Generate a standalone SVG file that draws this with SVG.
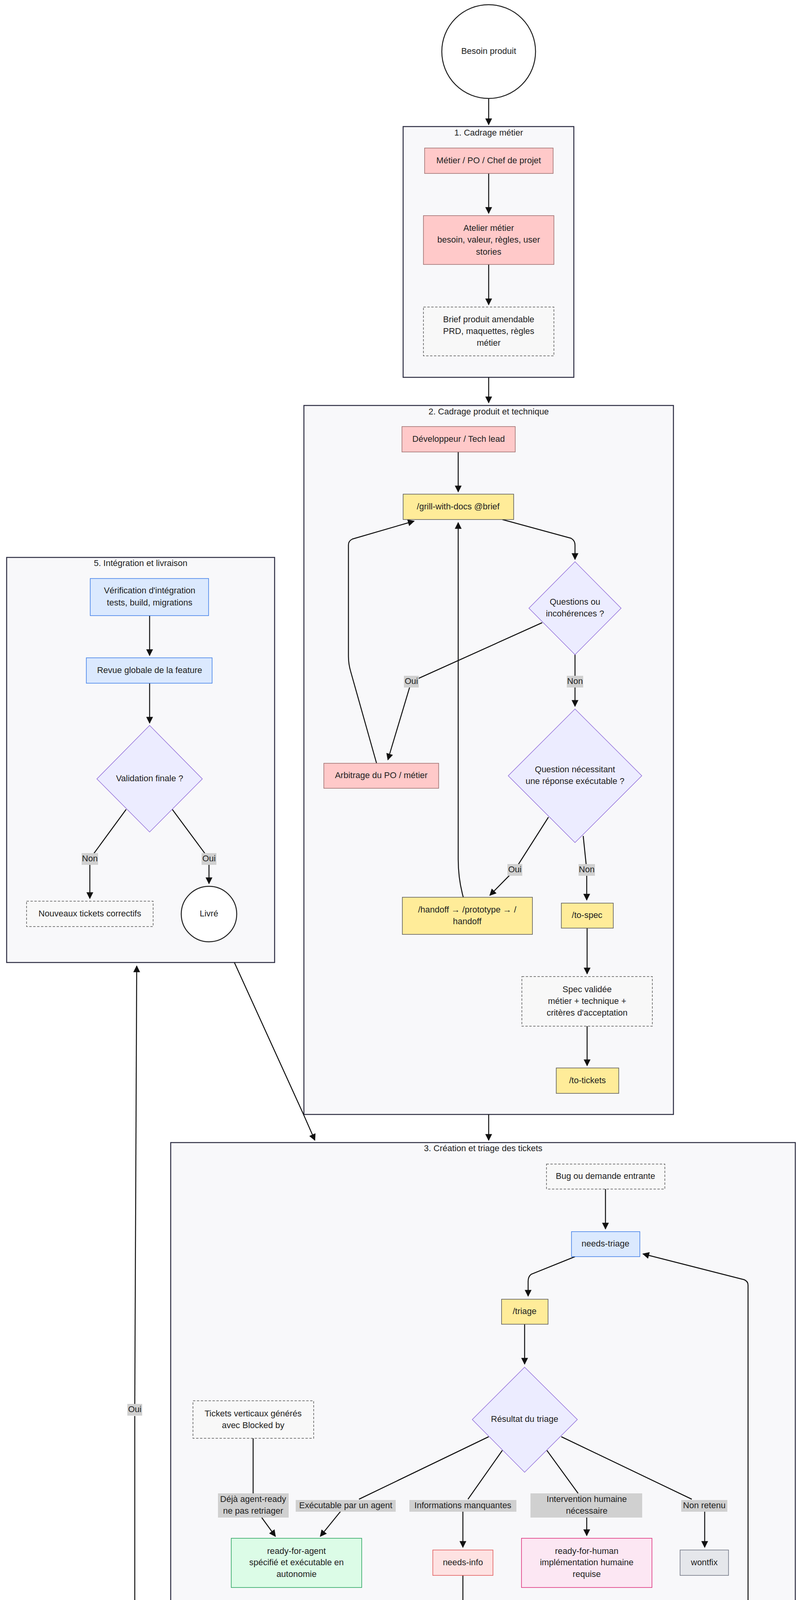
<svg xmlns="http://www.w3.org/2000/svg" width="2048" height="7204" viewBox="0 0 2048 7204">
<defs>
<marker id="ar" viewBox="0 0 10 10" refX="9" refY="5" markerWidth="7" markerHeight="7" orient="auto"><path d="M0,0 L10,5 L0,10 z" fill="#111"/></marker>
<style>
text{font-family:"Liberation Sans","DejaVu Sans",sans-serif;font-size:22px;fill:#222;text-anchor:middle;dominant-baseline:middle}
.cl{fill:#f8f8fa;stroke:#2b2b40;stroke-width:2.5}
.pk{fill:#ffc9c9;stroke:#9a6b6b;stroke-width:1.5}
.ye{fill:#ffec99;stroke:#555;stroke-width:1.5}
.bl{fill:#dbe9fe;stroke:#3b7be8;stroke-width:1.5}
.gr{fill:#dcfce7;stroke:#22a05a;stroke-width:1.5}
.hu{fill:#fce7f3;stroke:#db2777;stroke-width:1.5}
.rd{fill:#fee2e2;stroke:#e05555;stroke-width:1.5}
.gy{fill:#e5e7eb;stroke:#6b7280;stroke-width:1.5}
.ds{fill:#f8f8f8;stroke:#555;stroke-width:1.5;stroke-dasharray:6 4}
.dc{fill:#ececff;stroke:#9370db;stroke-width:1.5}
.ci{fill:#fff;stroke:#222;stroke-width:2.5}
.e{fill:none;stroke:#111;stroke-width:2.5}
.ea{fill:none;stroke:#111;stroke-width:2.5;marker-end:url(#ar)}
.lb{fill:#d0d0d0}
</style>
</defs>
<rect width="2048" height="7204" fill="#fff"/>
<g id="clusters">
<g id="c1"><rect class="cl" x="1032" y="324" width="437" height="642"/><text x="1251" y="341">1. Cadrage métier</text></g>
<g id="c2"><rect class="cl" x="778" y="1038" width="946" height="1815"/><text x="1251" y="1055">2. Cadrage produit et technique</text></g>
<g id="c5"><rect class="cl" x="17" y="1427" width="686" height="1037"/><text x="360" y="1443">5. Intégration et livraison</text></g>
<g id="c3"><rect class="cl" x="437" y="2925" width="1599" height="1366"/><text x="1237" y="2941">3. Création et triage des tickets</text></g>
<g id="c4"><rect class="cl" x="12" y="4362" width="1563" height="2825"/><text x="793" y="4378">4. Développement multi-agent</text></g>
</g>
<g id="edges">
<path class="ea" d="M1251,252 V319"/>
<path class="ea" d="M1251,444 V546"/>
<path class="ea" d="M1251,677 V780"/>
<path class="ea" d="M1251,966 V1031"/>
<path class="ea" d="M1173,1157 V1259"/>
<path class="ea" d="M1286,1330 L1462,1378 Q1472,1384 1472,1395 V1432"/>
<path class="e" d="M1388,1594 L1053,1745"/>
<path class="ea" d="M1053,1745 L993,1945"/>
<path class="ea" d="M964,1954 L898,1720 Q892,1700 892,1680 V1395 Q892,1385 902,1380 L1060,1334"/>
<path class="ea" d="M1472,1675 V1808"/>
<path class="e" d="M1404,2092 L1318,2227"/>
<path class="ea" d="M1318,2227 L1254,2292"/>
<path class="ea" d="M1186,2297 Q1173,2250 1173,2200 V1338"/>
<path class="e" d="M1493,2140 L1502,2227"/>
<path class="ea" d="M1502,2227 V2304"/>
<path class="ea" d="M1503,2376 V2493"/>
<path class="ea" d="M1503,2627 V2728"/>
<path class="ea" d="M383,1576 V1678"/>
<path class="ea" d="M383,1749 V1851"/>
<path class="e" d="M323,2072 L230,2199"/>
<path class="ea" d="M230,2199 V2300"/>
<path class="e" d="M441,2072 L535,2199"/>
<path class="ea" d="M535,2199 V2262"/>
<path class="ea" d="M1251,2853 V2919"/>
<path class="ea" d="M600,2464 L777,2853 L806,2919"/>
<path class="ea" d="M1550,3044 V3146"/>
<path class="ea" d="M1472,3217 L1360,3262 Q1352,3268 1352,3280 V3318"/>
<path class="ea" d="M1343,3390 V3492"/>
<path class="e" d="M648,3682 V3823"/>
<path class="ea" d="M670,3885 L705,3933"/>
<path class="e" d="M1251,3678 L919,3838"/>
<path class="ea" d="M872,3869 L820,3933"/>
<path class="e" d="M1286,3713 L1198,3838"/>
<path class="ea" d="M1185,3869 V3961"/>
<path class="e" d="M1400,3713 L1480,3823"/>
<path class="ea" d="M1502,3885 V3931"/>
<path class="e" d="M1437,3678 L1771,3838"/>
<path class="ea" d="M1804,3869 V3961"/>
<path class="ea" d="M1185,4033 V4108 Q1185,4118 1195,4121 L1444,4169"/>
<path class="ea" d="M1727,4172 L1905,4120 Q1915,4115 1915,4105 V3290 Q1915,3280 1905,3276 L1646,3210"/>
<path class="ea" d="M814,4291 Q800,4320 793,4356"/>
<path class="ea" d="M1251,4291 V4330 Q1251,4345 1245,4356"/>
<path class="e" d="M355,4362 Q345,4340 345,4300 V3625"/>
<path class="ea" d="M345,3595 L350,2473"/>
<path class="ea" d="M801,4497 L446,4561 Q436,4565 436,4575 V4614"/>
<path class="e" d="M337,4877 L131,5044"/>
<path class="ea" d="M131,5044 L178,5121"/>
<path class="ea" d="M249,5128 L345,5065 Q355,5058 358,5040 L392,4942"/>
<path class="e" d="M517,4894 L640,5044"/>
<path class="ea" d="M640,5044 V5106"/>
<path class="ea" d="M491,5196 L228,5256 Q217,5260 217,5272 V5309"/>
<path class="ea" d="M592,5208 L545,5250 Q537,5258 537,5270 V5309"/>
<path class="ea" d="M743,5208 L848,5250 Q858,5256 858,5268 V5309"/>
<path class="ea" d="M217,5412 V5529"/>
<path class="ea" d="M537,5412 V5529"/>
<path class="ea" d="M858,5412 V5529"/>
<path class="ea" d="M217,5600 V5660 Q217,5669 228,5672 L707,5750"/>
<path class="ea" d="M537,5600 V5658 Q537,5667 546,5670 L707,5729"/>
<path class="ea" d="M858,5600 V5640 Q858,5680 849,5714"/>
<path class="ea" d="M1222,5615 V5658 Q1222,5668 1210,5671 L955,5737"/>
<path class="ea" d="M716,5791 L228,5868 Q217,5871 217,5883 V5919"/>
<path class="ea" d="M216,6022 V6123"/>
<path class="e" d="M216,6375 V6444"/>
<path class="ea" d="M236,6448 L742,6530"/>
<path class="ea" d="M910,6511 L1066,6452 Q1075,6448 1075,6436 V5885 Q1075,5875 1065,5870 L957,5824"/>
<path class="e" d="M320,6273 L1222,6444"/>
<path class="ea" d="M1222,6444 V6507"/>
<path class="ea" d="M1222,6578 V6680"/>
<path class="ea" d="M1224,6782 V6820 Q1224,6835 1230,6845 L1297,6937"/>
<path class="e" d="M1397,6929 Q1441,6850 1441,6800 V5790"/>
<path class="ea" d="M1441,5755 V4580 Q1441,4570 1431,4566 L1143,4505"/>
</g>
<g id="edge-labels">
<rect class="lb" x="1034" y="1730" width="38" height="30"/><text x="1053" y="1745">Oui</text>
<rect class="lb" x="1451" y="1730" width="42" height="30"/><text x="1472" y="1745">Non</text>
<rect class="lb" x="1299" y="2212" width="38" height="30"/><text x="1318" y="2227">Oui</text>
<rect class="lb" x="1481" y="2212" width="42" height="30"/><text x="1502" y="2227">Non</text>
<rect class="lb" x="209" y="2184" width="42" height="30"/><text x="230" y="2199">Non</text>
<rect class="lb" x="516" y="2184" width="38" height="30"/><text x="535" y="2199">Oui</text>
<rect class="lb" x="326" y="3594" width="38" height="30"/><text x="345" y="3609">Oui</text>
<rect class="lb" x="558" y="3823" width="181" height="62"/><text x="648" y="3839">Déjà agent-ready</text><text x="648" y="3869">ne pas retriager</text>
<rect class="lb" x="757" y="3840" width="256" height="30"/><text x="885" y="3855">Exécutable par un agent</text>
<rect class="lb" x="1048" y="3840" width="274" height="30"/><text x="1185" y="3855">Informations manquantes</text>
<rect class="lb" x="1358" y="3823" width="286" height="62"/><text x="1502" y="3839">Intervention humaine</text><text x="1502" y="3869">nécessaire</text>
<rect class="lb" x="1744" y="3840" width="118" height="30"/><text x="1803" y="3855">Non retenu</text>
<rect class="lb" x="110" y="5029" width="42" height="30"/><text x="131" y="5044">Non</text>
<rect class="lb" x="621" y="5029" width="38" height="30"/><text x="640" y="5044">Oui</text>
<rect class="lb" x="1420" y="5757" width="42" height="30"/><text x="1441" y="5772">Non</text>
<rect class="lb" x="195" y="6429" width="42" height="30"/><text x="216" y="6444">Non</text>
<rect class="lb" x="1203" y="6429" width="38" height="30"/><text x="1222" y="6444">Oui</text>
</g>
<g id="n-besoin"><circle class="ci" cx="1251" cy="132" r="120"/><text x="1251" y="132">Besoin produit</text></g>
<g id="n-metier"><rect class="pk" x="1087" y="379" width="329" height="65"/><text x="1251" y="412">Métier / PO / Chef de projet</text></g>
<g id="n-atelier"><rect class="pk" x="1084" y="552" width="334" height="125"/><text x="1251" y="585">Atelier métier</text><text x="1251" y="615">besoin, valeur, règles, user</text><text x="1251" y="646">stories</text></g>
<g id="n-brief"><rect class="ds" x="1084" y="786" width="334" height="125"/><text x="1251" y="819">Brief produit amendable</text><text x="1251" y="849">PRD, maquettes, règles</text><text x="1251" y="879">métier</text></g>
<g id="n-dev"><rect class="pk" x="1029" y="1092" width="290" height="65"/><text x="1174" y="1125">Développeur / Tech lead</text></g>
<g id="n-grill"><rect class="ye" x="1032" y="1265" width="283" height="65"/><text x="1173" y="1298">/grill-with-docs @brief</text></g>
<g id="n-q1"><polygon class="dc" points="1472,1438 1590,1557 1472,1676 1354,1557"/><text x="1472" y="1542">Questions ou</text><text x="1472" y="1572">incohérences ?</text></g>
<g id="n-arb"><rect class="pk" x="829" y="1954" width="294" height="64"/><text x="976" y="1986">Arbitrage du PO / métier</text></g>
<g id="n-q2"><polygon class="dc" points="1472,1815 1643,1986 1472,2157 1301,1986"/><text x="1472" y="1971">Question nécessitant</text><text x="1472" y="2001">une réponse exécutable ?</text></g>
<g id="n-handoff"><rect class="ye" x="1030" y="2297" width="333" height="95"/><text x="1196" y="2330">/handoff → /prototype → /</text><text x="1196" y="2360">handoff</text></g>
<g id="n-tospec"><rect class="ye" x="1437" y="2312" width="133" height="64"/><text x="1503" y="2344">/to-spec</text></g>
<g id="n-spec"><rect class="ds" x="1336" y="2500" width="334" height="127"/><text x="1503" y="2534">Spec validée</text><text x="1503" y="2564">métier + technique +</text><text x="1503" y="2594">critères d'acceptation</text></g>
<g id="n-totickets"><rect class="ye" x="1424" y="2734" width="160" height="65"/><text x="1504" y="2767">/to-tickets</text></g>
<g id="n-verif"><rect class="bl" x="231" y="1481" width="303" height="95"/><text x="383" y="1513">Vérification d'intégration</text><text x="383" y="1544">tests, build, migrations</text></g>
<g id="n-revueg"><rect class="bl" x="221" y="1684" width="322" height="65"/><text x="383" y="1717">Revue globale de la feature</text></g>
<g id="n-valid"><polygon class="dc" points="383,1857 518,1994 383,2130 248,1994"/><text x="383" y="1994">Validation finale ?</text></g>
<g id="n-nouveaux"><rect class="ds" x="68" y="2307" width="324" height="65"/><text x="230" y="2340">Nouveaux tickets correctifs</text></g>
<g id="n-livre"><circle class="ci" cx="535" cy="2340" r="71"/><text x="535" y="2340">Livré</text></g>
<g id="n-bug"><rect class="ds" x="1399" y="2980" width="303" height="64"/><text x="1550" y="3012">Bug ou demande entrante</text></g>
<g id="n-needstriage"><rect class="bl" x="1463" y="3153" width="175" height="64"/><text x="1550" y="3185">needs-triage</text></g>
<g id="n-triage"><rect class="ye" x="1284" y="3326" width="119" height="64"/><text x="1343" y="3358">/triage</text></g>
<g id="n-res"><polygon class="dc" points="1343,3500 1478,3634 1343,3769 1209,3634"/><text x="1343" y="3634">Résultat du triage</text></g>
<g id="n-tv"><rect class="ds" x="494" y="3586" width="309" height="96"/><text x="648" y="3620">Tickets verticaux générés</text><text x="648" y="3650">avec Blocked by</text></g>
<g id="n-rfa"><rect class="gr" x="592" y="3938" width="334" height="126"/><text x="759" y="3972">ready-for-agent</text><text x="759" y="4001">spécifié et exécutable en</text><text x="759" y="4031">autonomie</text></g>
<g id="n-needsinfo"><rect class="rd" x="1108" y="3968" width="154" height="65"/><text x="1185" y="4001">needs-info</text></g>
<g id="n-rfh"><rect class="hu" x="1335" y="3938" width="334" height="126"/><text x="1502" y="3972">ready-for-human</text><text x="1502" y="4001">implémentation humaine</text><text x="1502" y="4031">requise</text></g>
<g id="n-wontfix"><rect class="gy" x="1741" y="3968" width="124" height="65"/><text x="1803" y="4001">wontfix</text></g>
<g id="n-demandeur"><rect class="pk" x="1450" y="4172" width="325" height="65"/><text x="1612" y="4205">Informations du demandeur</text></g>
<g id="n-file"><rect class="gr" x="801" y="4417" width="334" height="95"/><text x="968" y="4449">File des tickets ready-for-</text><text x="968" y="4480">agent</text></g>
<g id="n-bloq"><polygon class="dc" points="436,4621 613,4797 436,4974 259,4797"/><text x="436" y="4783">Tous les tickets</text><text x="436" y="4813">bloquants sont terminés ?</text></g>
<g id="n-attente"><rect class="rd" x="63" y="5128" width="284" height="65"/><text x="205" y="5161">En attente des blockers</text></g>
<g id="n-claim"><rect class="bl" x="491" y="5113" width="299" height="95"/><text x="640" y="5145">Claim atomique du ticket</text><text x="640" y="5176">un seul agent par ticket</text></g>
<g id="n-agA"><rect class="gr" x="124" y="5317" width="187" height="95"/><text x="217" y="5349">Agent A</text><text x="217" y="5379">contexte neuf</text></g>
<g id="n-agB"><rect class="gr" x="445" y="5317" width="187" height="95"/><text x="538" y="5349">Agent B</text><text x="538" y="5379">contexte neuf</text></g>
<g id="n-agN"><rect class="gr" x="767" y="5317" width="185" height="95"/><text x="859" y="5349">Agent N</text><text x="859" y="5379">contexte neuf</text></g>
<g id="n-impA"><rect class="ye" x="93" y="5535" width="249" height="65"/><text x="217" y="5568">/implement ticket A</text></g>
<g id="n-impB"><rect class="ye" x="414" y="5535" width="248" height="65"/><text x="538" y="5568">/implement ticket B</text></g>
<g id="n-impN"><rect class="ye" x="735" y="5535" width="248" height="65"/><text x="859" y="5568">/implement ticket N</text></g>
<g id="n-human"><rect class="hu" x="1057" y="5520" width="334" height="95"/><text x="1224" y="5553">Développement par un</text><text x="1224" y="5584">humain</text></g>
<g id="n-tdd"><rect class="ye" x="716" y="5724" width="231" height="95"/><text x="831" y="5756">/tdd</text><text x="831" y="5786">slices red → green</text></g>
<g id="n-cr"><rect class="ye" x="106" y="5926" width="219" height="96"/><text x="216" y="5959">/code-review</text><text x="216" y="5990">Standards + Spec</text></g>
<g id="n-revue"><polygon class="dc" points="216,6131 338,6253 216,6375 95,6253"/><text x="216" y="6253">Revue validée ?</text></g>
<g id="n-corr"><rect class="bl" x="748" y="6513" width="164" height="65"/><text x="830" y="6546">Corrections</text></g>
<g id="n-term"><rect class="bl" x="1126" y="6513" width="194" height="65"/><text x="1223" y="6546">Ticket terminé</text></g>
<g id="n-debl"><rect class="bl" x="1057" y="6687" width="334" height="95"/><text x="1224" y="6720">Débloque les tickets</text><text x="1224" y="6750">dépendants</text></g>
<g id="n-tous"><polygon class="dc" points="1357,6891 1480,7014 1357,7137 1234,7014"/><text x="1357" y="6999">Tous les tickets</text><text x="1357" y="7029">sont terminés ?</text></g>
</svg>
